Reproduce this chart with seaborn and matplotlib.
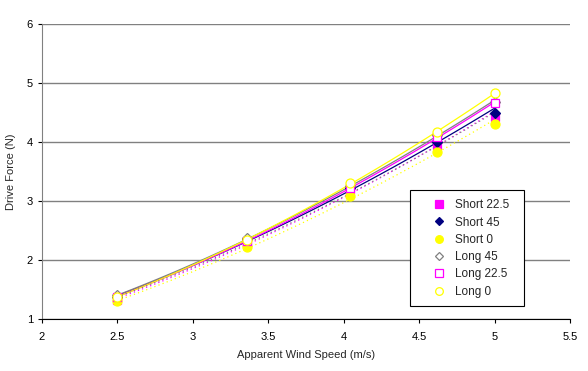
import numpy as np
import pandas as pd
import matplotlib
matplotlib.use("Agg")
import matplotlib.pyplot as plt
from matplotlib.patches import Rectangle
import seaborn as sns

# apparent wind speed (m/s)
wind_speed = [2.5, 3.36, 4.04, 4.62, 5.0]

# drive force (N) per configuration
short_22_5 = [1.33, 2.30, 3.18, 3.95, 4.42]
short_45 = [1.38, 2.35, 3.22, 4.00, 4.50]
short_0 = [1.30, 2.22, 3.08, 3.83, 4.30]
long_45 = [1.40, 2.37, 3.25, 4.12, 4.68]
long_22_5 = [1.38, 2.33, 3.22, 4.08, 4.66]
long_0 = [1.38, 2.34, 3.30, 4.17, 4.83]

series_names = ["Short 22.5", "Short 45", "Short 0", "Long 45", "Long 22.5", "Long 0"]
series_vals = [short_22_5, short_45, short_0, long_45, long_22_5, long_0]

x_ticks = [2, 2.5, 3, 3.5, 4, 4.5, 5, 5.5]
y_ticks = [1, 2, 3, 4, 5, 6]

rows = []
for name, vals in zip(series_names, series_vals):
    for xv, yv in zip(wind_speed, vals):
        rows.append({"speed": xv, "force": yv, "series": name})
df = pd.DataFrame(rows)

sns.set_style("white")
plt.rcParams['font.family'] = ['Liberation Sans', 'DejaVu Sans']

styles = {
    "Short 22.5": dict(marker="s", mfc="#FF00FF", mec="#FF00FF", color="#FF00FF", ls=(0, (1, 2.5))),
    "Short 45": dict(marker="D", mfc="#000080", mec="#000080", color="#000080", ls="-"),
    "Short 0": dict(marker="o", mfc="#FFFF00", mec="#FFFF00", color="#FFFF00", ls=(0, (1, 2.5))),
    "Long 45": dict(marker="D", mfc="white", mec="#808080", color="#808080", ls="-"),
    "Long 22.5": dict(marker="s", mfc="white", mec="#FF00FF", color="#FF00FF", ls="-"),
    "Long 0": dict(marker="o", mfc="white", mec="#FFFF00", color="#FFFF00", ls="-"),
}
msize = {"s": 6, "D": 5, "o": 6.5}

fig = plt.figure(figsize=(5.88, 3.71), dpi=100)
ax = fig.add_axes([0.0714, 0.140, 0.898, 0.795])

# power trendlines through each series
xs = np.linspace(2.5, 5.0, 60)
for name in series_names:
    sub = df[df.series == name]
    b, lna = np.polyfit(np.log(sub.speed), np.log(sub.force), 1)
    st = styles[name]
    ax.plot(xs, np.exp(lna) * xs ** b, color=st["color"], ls=st["ls"], lw=0.9, zorder=2)

# gray dotted trend from the short 45 set as in the original
sub = df[df.series == "Short 45"]
b, lna = np.polyfit(np.log(sub.speed), np.log(sub.force), 1)
ax.plot(xs, np.exp(lna) * xs ** b * 0.985, color="#808080", ls=(0, (1, 2.5)), lw=0.9, zorder=2)

handles = []
for name in series_names:
    sub = df[df.series == name]
    st = styles[name]
    h, = ax.plot(sub.speed, sub.force, ls="none", marker=st["marker"],
                 ms=msize[st["marker"]], mfc=st["mfc"], mec=st["mec"], mew=0.9,
                 label=name, zorder=3)
    handles.append(h)

ax.set_xlim(2, 5.5)
ax.set_ylim(1, 6)
ax.set_xticks(x_ticks)
ax.set_xticklabels([f"{t:g}" for t in x_ticks])
ax.set_yticks(y_ticks)
ax.yaxis.grid(True, color="#808080", lw=1)
ax.set_axisbelow(True)

for s in ["top", "right"]:
    ax.spines[s].set_visible(False)
ax.spines["left"].set_color("#808080")
ax.spines["bottom"].set_color("black")
ax.tick_params(axis="both", direction="out", length=3, width=0.8, labelsize=8,
               colors="black", left=True, bottom=True)
ax.tick_params(axis="x", pad=6)

ax.set_xlabel("Apparent Wind Speed (m/s)", fontsize=8, labelpad=6)
ax.set_ylabel("Drive Force (N)", fontsize=8, labelpad=8)

# legend box drawn separately so its padding matches the Excel look
box = Rectangle((0.697, 0.175), 0.194, 0.3127, transform=fig.transFigure,
                facecolor="white", edgecolor="black", lw=0.8, zorder=4)
fig.patches.append(box)
leg = fig.legend(handles=handles, loc="upper left", bbox_to_anchor=(0.733, 0.463),
                 fontsize=8.5, frameon=False, borderpad=0, labelspacing=0.45,
                 handlelength=1.4, handletextpad=0.6, markerscale=0.85,
                 borderaxespad=0)
leg.set_zorder(5)

fig.savefig("out.png", dpi=100)
